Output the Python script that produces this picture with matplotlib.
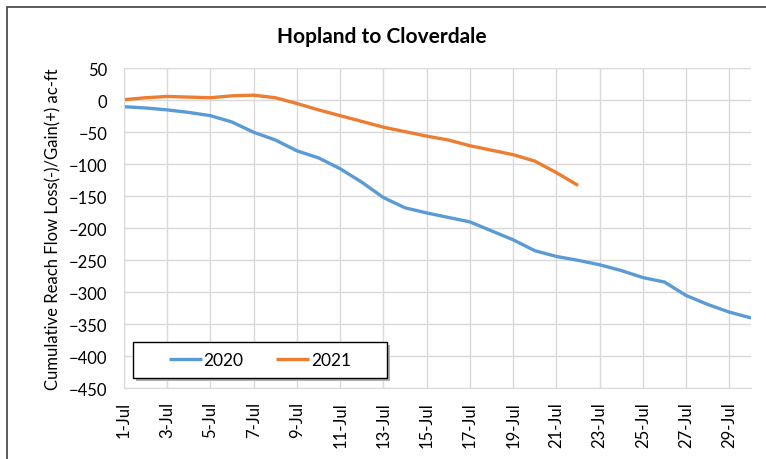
import numpy as np
import matplotlib.pyplot as plt
from matplotlib.patches import Rectangle

# data (ac-ft)
days = list(range(1, 31))
day_labels = [f"{d}-Jul" for d in days]
flow_2020 = [-10, -12, -15, -19, -24, -34, -50, -62, -79, -90,
             -107, -128, -152, -168, -176, -183, -190, -204, -218, -235,
             -244, -250, -257, -266, -277, -284, -305, -319, -331, -340]
flow_2021 = [1, 4, 6, 5, 4, 7, 8, 4, -5, -15,
             -24, -33, -42, -49, -56, -62, -71, -78, -85, -95,
             -113, -133]

plt.rcParams['font.family'] = ['Lato', 'DejaVu Sans']

W, H = 766, 460
fig = plt.figure(figsize=(W / 100, H / 100), dpi=100)
ax = fig.add_axes([124 / W, 1 - 389.3 / H, (751 - 124) / W, (389.3 - 69.3) / H])

ax.plot(days, flow_2020, color='#5B9BD5', lw=2.4, label='2020', solid_capstyle='butt')
ax.plot(days[:len(flow_2021)], flow_2021, color='#ED7D31', lw=2.4, label='2021',
        solid_capstyle='butt')

ax.set_xlim(1, 30)
ax.set_ylim(-450, 50)
ax.set_yticks(np.arange(-450, 51, 50))
ax.set_xticks(days[::2])
ax.set_xticklabels(day_labels[::2], rotation=90, fontsize=12)
ax.tick_params(axis='y', labelsize=12, length=0, pad=12)
ax.tick_params(axis='x', length=0, pad=9)
ax.grid(True, color='#d9d9d9', lw=1)
ax.set_axisbelow(True)
for s in ax.spines.values():
    s.set_color('#d9d9d9')
ax.spines['top'].set_visible(False)
ax.spines['right'].set_visible(False)

ax.set_ylabel('Cumulative Reach Flow Loss(-)/Gain(+) ac-ft', fontsize=12, labelpad=5)
fig.text(382 / W, 1 - 37 / H, 'Hopland to Cloverdale', ha='center', va='center',
         fontsize=15, fontweight='bold')

# legend box with shadow
lx0, lx1, ly0, ly1 = 133, 387, 342.7, 378.7
fig.patches.append(Rectangle(((lx0 + 3) / W, 1 - (ly1 + 3) / H), (lx1 - lx0) / W,
                             (ly1 - ly0) / H, transform=fig.transFigure,
                             facecolor='#b0b0b0', edgecolor='none', zorder=5))
fig.patches.append(Rectangle((lx0 / W, 1 - ly1 / H), (lx1 - lx0) / W, (ly1 - ly0) / H,
                             transform=fig.transFigure, facecolor='white',
                             edgecolor='black', lw=1, zorder=6))
leg = fig.legend(loc='center', bbox_to_anchor=((lx0 + lx1) / 2 / W, 1 - (ly0 + ly1) / 2 / H),
                 ncol=2, frameon=False, fontsize=12.5, handlelength=1.9,
                 handletextpad=0.1, columnspacing=1.9)
leg.set_zorder(7)

# outer chart border
fig.patches.append(Rectangle((7 / W, -0.1), 1.2, 1 - 8 / H + 0.1, transform=fig.transFigure,
                             facecolor='none', edgecolor='#404040', lw=1.2))

fig.savefig('out.png', dpi=100)
